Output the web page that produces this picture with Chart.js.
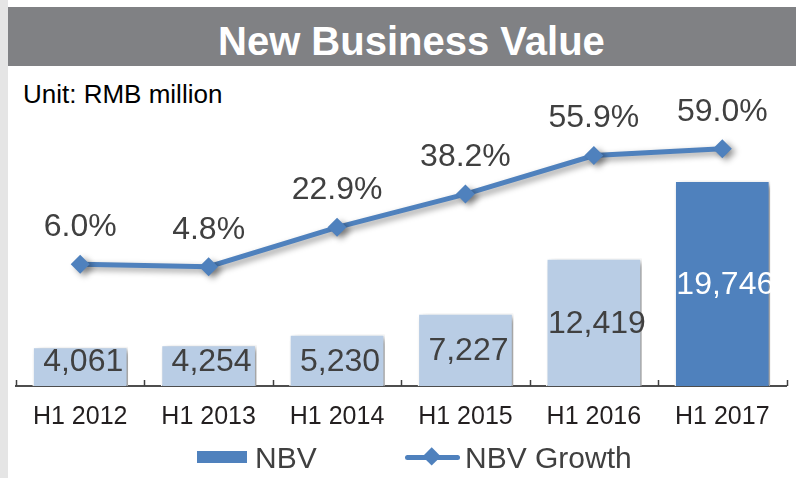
<!DOCTYPE html>
<html><head><meta charset="utf-8">
<script src="https://cdn.jsdelivr.net/npm/chart.js@4/dist/chart.umd.min.js"></script>
<style>
html,body{margin:0;padding:0;background:#fff;}
#wrap{position:relative;width:796px;height:478px;overflow:hidden;font-family:"Liberation Sans",Arial,sans-serif;}
#strip{position:absolute;left:0;top:0;width:8px;height:478px;background:#e5e5e5;}
#tbar{position:absolute;left:8px;top:7px;width:788px;height:59px;background:#808184;}
#title{position:absolute;left:218px;top:21px;font-size:40px;line-height:40px;font-weight:bold;color:#fff;white-space:nowrap;}
#unit{position:absolute;left:23px;top:81px;font-size:26px;line-height:26px;color:#000;white-space:nowrap;}
#c{position:absolute;left:0;top:0;}
.lg{position:absolute;}
.lt{position:absolute;top:443px;font-size:30px;line-height:30px;color:#404040;white-space:nowrap;}
</style>
</head><body>
<div id="wrap">
  <div id="strip"></div>
  <div id="tbar"></div>
  <div id="title">New Business Value</div>
  <div id="unit">Unit: RMB million</div>
  <canvas id="c" width="796" height="478"></canvas>
  <div class="lg" style="left:197px;top:451px;width:50px;height:12px;background:#4f81bd;"></div>
  <div class="lt" style="left:255px;">NBV</div>
  <div class="lg" style="left:405px;top:454.5px;width:55px;height:5px;background:#4f81bd;border-radius:2.5px;"></div>
  <div class="lg" style="left:425.3px;top:450.3px;width:13.4px;height:13.4px;background:#4f81bd;transform:rotate(45deg);"></div>
  <div class="lt" style="left:465px;">NBV Growth</div>
</div>
<script>
const categories = ["H1 2012","H1 2013","H1 2014","H1 2015","H1 2016","H1 2017"];
const nbvValues = [4061, 4254, 5230, 7227, 12419, 19746];
const growthValues = [6.0, 4.8, 22.9, 38.2, 55.9, 59.0];
const barColors = ["#b9cde5","#b9cde5","#b9cde5","#b9cde5","#b9cde5","#4f81bd"];
const barLabelColors = ["#404040","#404040","#404040","#404040","#404040","#ffffff"];

const FONT = '"Liberation Sans", Arial, sans-serif';

const shadowPlugin = {
  id: 'shadow',
  beforeDatasetDraw(chart, args) {
    const ctx = chart.ctx;
    ctx.save();
    ctx.shadowColor = 'rgba(0,0,0,0.4)';
    ctx.shadowBlur = 6;
    ctx.shadowOffsetX = 4;
    ctx.shadowOffsetY = 3;
  },
  afterDatasetDraw(chart, args) {
    chart.ctx.restore();
  }
};

const ticksPlugin = {
  id: 'innerTicks',
  afterDraw(chart) {
    const x = chart.scales.x;
    const ctx = chart.ctx;
    const n = categories.length;
    const b = chart.chartArea.bottom;
    ctx.save();
    ctx.strokeStyle = '#404040';
    ctx.lineWidth = 1.5;
    for (let i = 0; i <= n; i++) {
      const px = Math.round(x.left + i * x.width / n) + 0.5;
      ctx.beginPath();
      ctx.moveTo(px, b - 6);
      ctx.lineTo(px, b);
      ctx.stroke();
    }
    ctx.restore();
  }
};

const labelPlugin = {
  id: 'valueLabels',
  afterDatasetsDraw(chart) {
    const ctx = chart.ctx;
    ctx.save();
    ctx.font = '32px ' + FONT;
    ctx.textAlign = 'center';
    ctx.textBaseline = 'middle';
    const barMeta = chart.getDatasetMeta(1);
    barMeta.data.forEach((el, i) => {
      const y = Math.min((el.y + el.base) / 2, el.base - 28);
      ctx.fillStyle = barLabelColors[i];
      ctx.fillText(nbvValues[i].toLocaleString('en-US'), el.x + 3, y);
    });
    const lineMeta = chart.getDatasetMeta(0);
    ctx.fillStyle = '#404040';
    lineMeta.data.forEach((el, i) => {
      ctx.fillText(growthValues[i].toFixed(1) + '%', el.x, el.y - 37);
    });
    ctx.restore();
  }
};

new Chart(document.getElementById('c'), {
  data: {
    labels: categories,
    datasets: [
      {
        type: 'line',
        label: 'NBV Growth',
        data: growthValues,
        yAxisID: 'y2',
        borderColor: '#4f81bd',
        backgroundColor: '#4f81bd',
        borderWidth: 5,
        pointStyle: 'rectRot',
        pointRadius: 9.5,
        pointBorderWidth: 0,
        pointBackgroundColor: '#4f81bd',
        tension: 0,
        order: 1
      },
      {
        type: 'bar',
        label: 'NBV',
        data: nbvValues,
        yAxisID: 'y',
        backgroundColor: barColors,
        borderColor: '#ffffff',
        borderWidth: 1.5,
        barPercentage: 0.745,
        categoryPercentage: 1,
        order: 2
      }
    ]
  },
  options: {
    responsive: false,
    animation: false,
    devicePixelRatio: 1,
    layout: { padding: { left: 16, right: 5, top: 102, bottom: 38 } },
    plugins: { legend: { display: false }, tooltip: { enabled: false }, title: { display: false } },
    scales: {
      x: {
        grid: { display: false },
        border: { display: true, color: '#4d4d4d', width: 2 },
        ticks: { color: '#231f20', padding: 8, font: { size: 25, family: FONT } }
      },
      y: { display: false, min: 350, max: 27160 },
      y2: { display: false, position: 'right', min: -50, max: 80.5 }
    }
  },
  plugins: [shadowPlugin, ticksPlugin, labelPlugin]
});
</script>
</body></html>
